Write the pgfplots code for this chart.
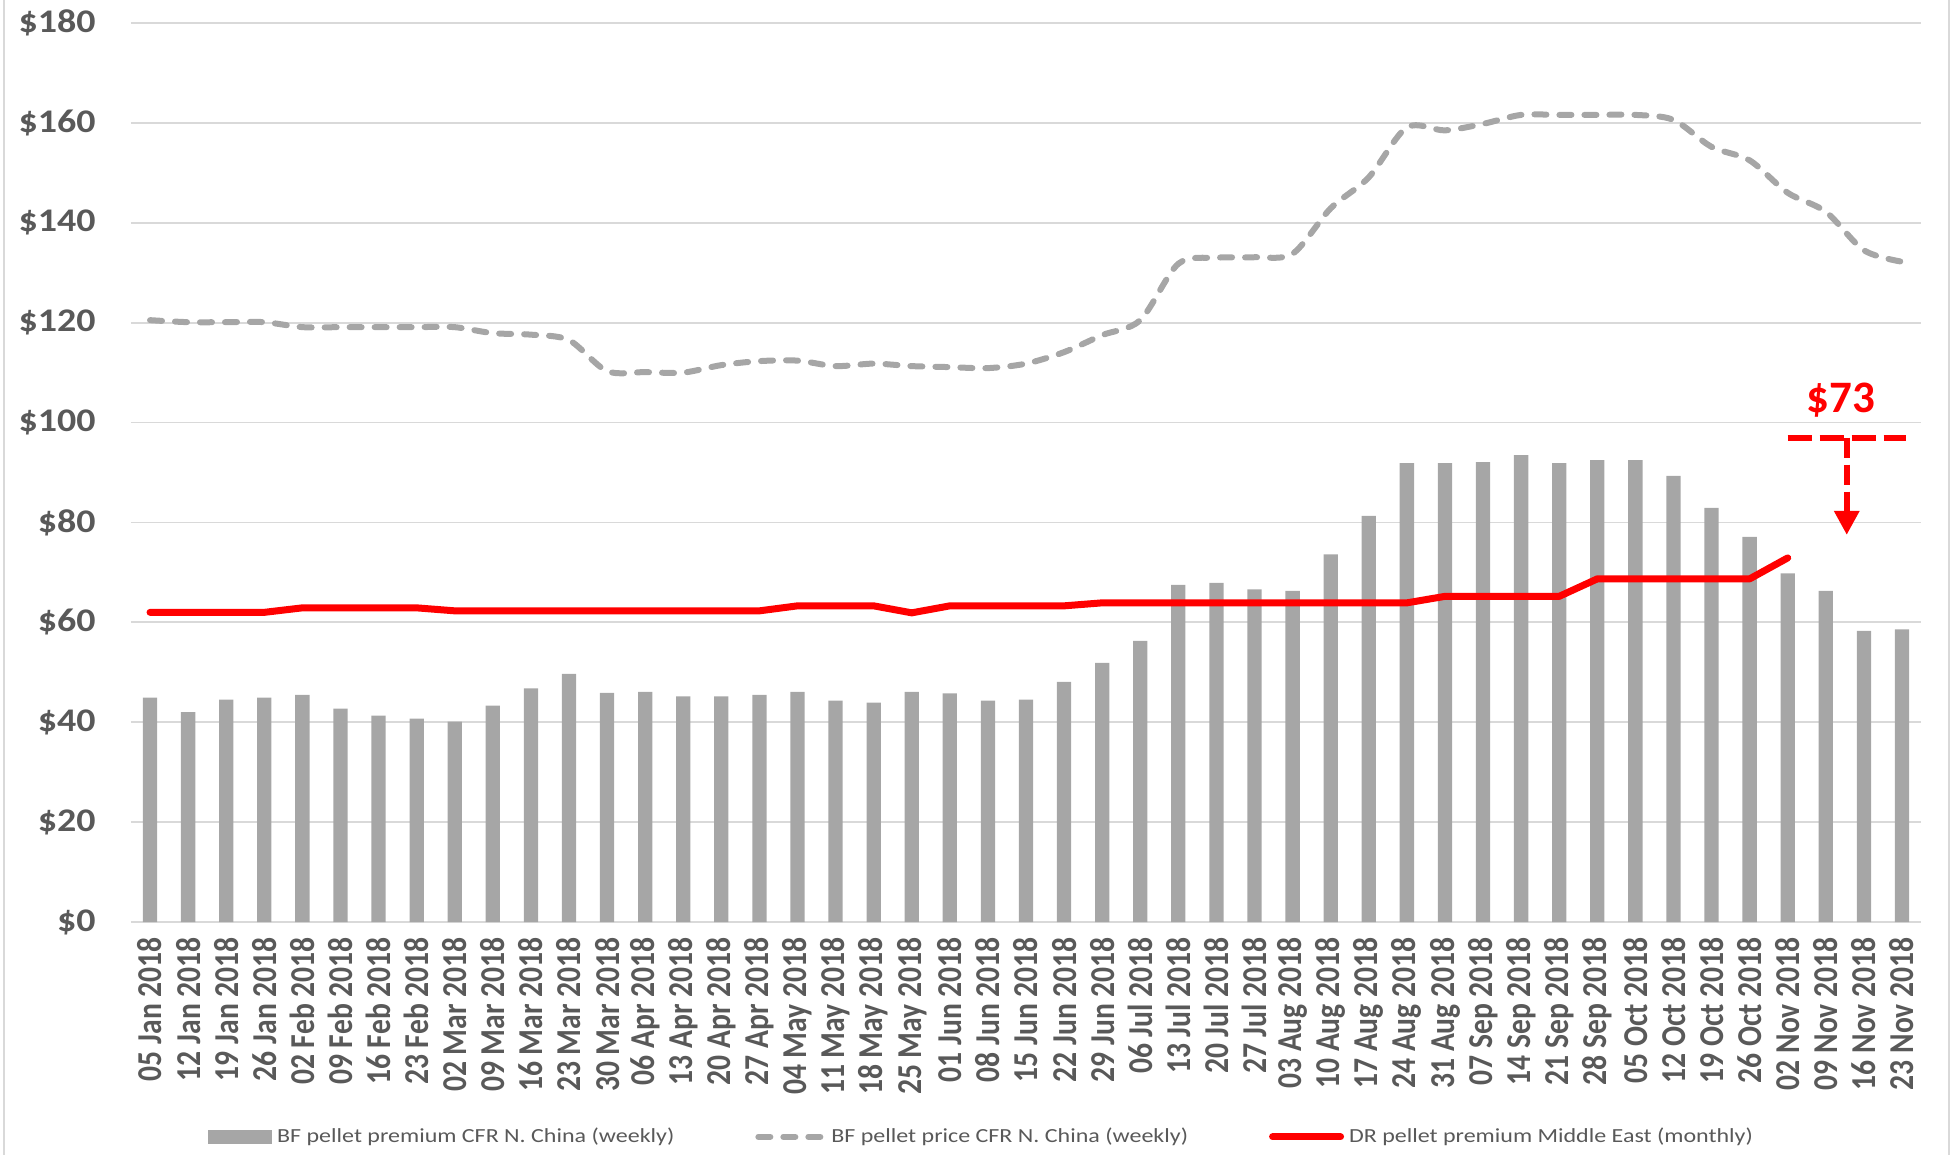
\documentclass[border=0pt]{standalone}
\usepackage{fontspec}
\setmainfont{Carlito}
\usepackage{pgfplots}
\pgfplotsset{compat=1.18}
\usetikzlibrary{arrows.meta}
\definecolor{cBar}{HTML}{A6A6A6}
\definecolor{cGrid}{HTML}{D9D9D9}
\definecolor{cTxt}{HTML}{595959}
\newcommand{\xl}[1]{\scalebox{1}[1.18]{#1}}
\newcommand{\lgt}[1]{\scalebox{1.2}[1]{#1}}
\begin{document}
\begin{tikzpicture}
\useasboundingbox (-65.5pt,-116.5pt) rectangle (910.5pt,461pt);
\draw[cGrid, line width=1pt] (-63.5pt,-116.5pt) -- (-63.5pt,461pt);
\draw[cGrid, line width=1pt] (909pt,-116.5pt) -- (909pt,461pt);
\begin{axis}[
  at={(0pt,0pt)}, anchor=south west,
  scale only axis, width=895pt, height=449.5pt,
  xmin=-0.5, xmax=46.5, ymin=0, ymax=180,
  ytick={0,20,...,180},
  xtick={0,...,46},
  xticklabels={\xl{05 Jan 2018},\xl{12 Jan 2018},\xl{19 Jan 2018},\xl{26 Jan 2018},\xl{02 Feb 2018},\xl{09 Feb 2018},\xl{16 Feb 2018},\xl{23 Feb 2018},\xl{02 Mar 2018},\xl{09 Mar 2018},\xl{16 Mar 2018},\xl{23 Mar 2018},\xl{30 Mar 2018},\xl{06 Apr 2018},\xl{13 Apr 2018},\xl{20 Apr 2018},\xl{27 Apr 2018},\xl{04 May 2018},\xl{11 May 2018},\xl{18 May 2018},\xl{25 May 2018},\xl{01 Jun 2018},\xl{08 Jun 2018},\xl{15 Jun 2018},\xl{22 Jun 2018},\xl{29 Jun 2018},\xl{06 Jul 2018},\xl{13 Jul 2018},\xl{20 Jul 2018},\xl{27 Jul 2018},\xl{03 Aug 2018},\xl{10 Aug 2018},\xl{17 Aug 2018},\xl{24 Aug 2018},\xl{31 Aug 2018},\xl{07 Sep 2018},\xl{14 Sep 2018},\xl{21 Sep 2018},\xl{28 Sep 2018},\xl{05 Oct 2018},\xl{12 Oct 2018},\xl{19 Oct 2018},\xl{26 Oct 2018},\xl{02 Nov 2018},\xl{09 Nov 2018},\xl{16 Nov 2018},\xl{23 Nov 2018}},
  xticklabel style={yshift=-7.5pt, rotate=90, anchor=east, inner sep=0pt, font=\bfseries\fontsize{14.8}{16}\selectfont, text=cTxt},
  /pgf/number format/assume math mode=true,
  yticklabel={\scalebox{1.15}[1]{\$\pgfmathprintnumber{\tick}}},
  yticklabel style={anchor=east, inner sep=0pt, xshift=-17.5pt, font=\bfseries\fontsize{16.5}{18}\selectfont, text=cTxt},
  ymajorgrids, grid style={cGrid, line width=0.9pt},
  axis line style={draw=none},
  major tick length=0pt,
  legend style={at={(axis description cs:0.476,-0.239)}, anchor=center, draw=none, fill=none,
    font=\fontsize{10}{12}\selectfont, text=cTxt,
    /tikz/every even column/.append style={column sep=38pt},
    nodes={inner sep=2.5pt}},
  legend columns=3,
  legend cell align=left,
]
\addplot[ybar, bar width=0.375, fill=cBar, draw=none,
  legend image code/.code={\fill[cBar] (0pt,-3.5pt) rectangle (32pt,3.5pt);}]
coordinates {
(0,44.9) (1,42.0) (2,44.5) (3,44.9) (4,45.5) (5,42.7) (6,41.3) (7,40.7) (8,40.1) (9,43.3)
(10,46.8) (11,49.7) (12,45.9) (13,46.1) (14,45.2) (15,45.2) (16,45.5) (17,46.1) (18,44.3) (19,43.9)
(20,46.1) (21,45.8) (22,44.3) (23,44.5) (24,48.1) (25,51.9) (26,56.3) (27,67.5) (28,67.9) (29,66.6)
(30,66.3) (31,73.6) (32,81.3) (33,91.9) (34,91.9) (35,92.1) (36,93.5) (37,91.9) (38,92.5) (39,92.5)
(40,89.3) (41,82.9) (42,77.1) (43,69.8) (44,66.3) (45,58.3) (46,58.6)};
\addlegendentry{\lgt{BF pellet premium CFR N. China (weekly)}}
\addplot[cBar, line width=3pt, dash pattern=on 6pt off 6.5pt, line cap=round, smooth, mark=none,
  legend image code/.code={\draw[cBar, line width=3pt, dash pattern=on 6pt off 6.5pt, line cap=round] (1.5pt,0pt) -- (34pt,0pt);}]
coordinates {
(0,120.5) (1,120.1) (2,120.1) (3,120.1) (4,119.1) (5,119.1) (6,119.1) (7,119.1) (8,119.1) (9,117.9)
(10,117.6) (11,116.5) (12,110.3) (13,110.1) (14,110.0) (15,111.5) (16,112.3) (17,112.4) (18,111.3) (19,111.8)
(20,111.3) (21,111.1) (22,110.9) (23,111.8) (24,114.1) (25,117.5) (26,120.5) (27,131.8) (28,133.0) (29,133.1)
(30,133.8) (31,142.9) (32,149.1) (33,159.1) (34,158.5) (35,159.8) (36,161.6) (37,161.6) (38,161.6) (39,161.6)
(40,160.6) (41,155.2) (42,152.5) (43,146.0) (44,142.2) (45,134.5) (46,132.2)};
\addlegendentry{\lgt{BF pellet price CFR N. China (weekly)}}
\addplot[red, line width=3.5pt, line join=round, line cap=round, mark=none,
  legend image code/.code={\draw[red, line width=3.5pt] (0pt,0pt) -- (34pt,0pt);}]
coordinates {
(0,62.0) (1,62.0) (2,62.0) (3,62.0) (4,62.9) (5,62.9) (6,62.9) (7,62.9) (8,62.3) (9,62.3)
(10,62.3) (11,62.3) (12,62.3) (13,62.3) (14,62.3) (15,62.3) (16,62.3) (17,63.3) (18,63.3) (19,63.3)
(20,61.9) (21,63.3) (22,63.3) (23,63.3) (24,63.3) (25,63.9) (26,63.9) (27,63.9) (28,63.9) (29,63.9)
(30,63.9) (31,63.9) (32,63.9) (33,63.9) (34,65.2) (35,65.2) (36,65.2) (37,65.2) (38,68.7) (39,68.7)
(40,68.7) (41,68.7) (42,68.7) (43,72.9)};
\addlegendentry{\lgt{DR pellet premium Middle East (monthly)}}
\draw[red, line width=3pt, dash pattern=on 12pt off 4pt] (axis cs:43.0,97) -- (axis cs:46.1,97);
\draw[red, line width=3pt, dash pattern=on 10pt off 3.5pt, -{Triangle[length=12pt,width=12pt]}] (axis cs:44.55,97) -- (axis cs:44.55,77.5);
\node[text=red, font=\bfseries\fontsize{22.5}{24}\selectfont] at (axis cs:44.4,104.4) {\$73};
\end{axis}
\end{tikzpicture}
\end{document}
